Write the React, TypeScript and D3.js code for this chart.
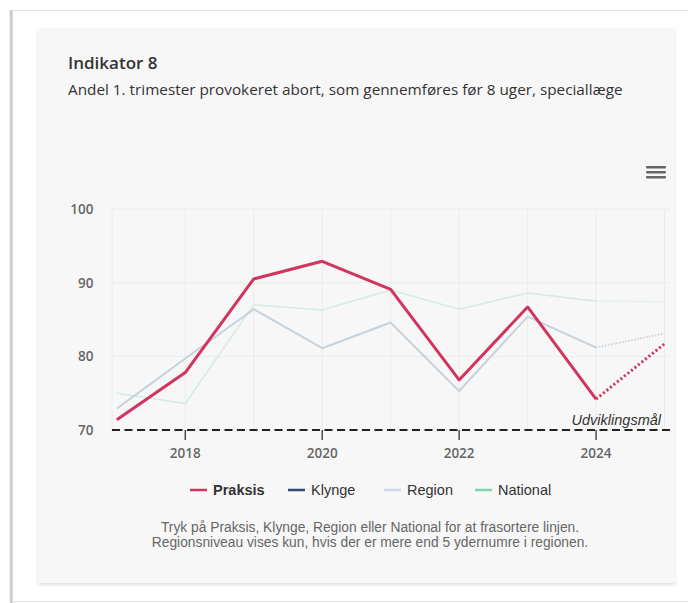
import React from "react";
import * as d3 from "d3";

const years = [2017, 2018, 2019, 2020, 2021, 2022, 2023, 2024, 2025];
const praksis = [71.4, 77.8, 90.5, 92.9, 89.1, 76.8, 86.7, 74.2, 81.7];
const region = [72.9, 79.7, 86.4, 81.1, 84.6, 75.3, 85.4, 81.2, 83.1];
const national = [75.0, 73.6, 87.0, 86.3, 89.0, 86.4, 88.6, 87.5, 87.4];
const yTicks = [70, 80, 90, 100];
const xTicks = [2018, 2020, 2022, 2024];
const legendNames = ["Praksis", "Klynge", "Region", "National"];
const legendColors = ["#d0345f", "#2d4f73", "#c9d9e8", "#7fd3ae"];
const target = 70;
const targetLabel = "Udviklingsmål";
const title = "Indikator 8";
const subtitle = "Andel 1. trimester provokeret abort, som gennemføres før 8 uger, speciallæge";
const footer1 = "Tryk på Praksis, Klynge, Region eller National for at frasortere linjen.";
const footer2 = "Regionsniveau vises kun, hvis der er mere end 5 ydernumre i regionen.";

export default function App() {
  const x = d3.scaleLinear().domain([2016.93, 2025.08]).range([112, 670]);
  const y = d3.scaleLinear().domain([70, 100]).range([430, 209]);
  const line = d3
    .line<[number, number]>()
    .x((d) => x(d[0]))
    .y((d) => y(d[1]));
  const solid = (vals: number[]) =>
    line(years.slice(0, 8).map((yr, i) => [yr, vals[i]] as [number, number])) || "";
  const dotted = (vals: number[]) =>
    line(years.slice(7).map((yr, i) => [yr, vals[i + 7]] as [number, number])) || "";
  const allYears = d3.range(2018, 2026);
  const [x0, x1] = x.range();

  const series = [
    { vals: national, color: "#d5ebe3", w: 1.6 },
    { vals: region, color: "#c6d2dc", w: 2 },
    { vals: praksis, color: "#d0345f", w: 3 },
  ];

  const legendX = [190, 288, 384, 475];
  const arial = "'Liberation Sans', Arial, sans-serif";

  return (
    <svg
      width={688}
      height={603}
      style={{ position: "absolute", left: 0, top: 0, background: "#fff" }}
      fontFamily="'Open Sans', sans-serif"
    >
      <defs>
        <filter id="sh" x="-5%" y="-5%" width="110%" height="110%">
          <feDropShadow dx="0" dy="2" stdDeviation="1.5" floodColor="#000" floodOpacity="0.12" />
        </filter>
        <linearGradient id="lsh" x1="0" x2="1">
          <stop offset="0" stopColor="#fff" />
          <stop offset="0.5" stopColor="#bdbdbd" />
          <stop offset="1" stopColor="#e8e8e8" />
        </linearGradient>
      </defs>
      {/* outer frame */}
      <rect x={9} y={10} width={4} height={593} fill="url(#lsh)" />
      <line x1={12} x2={688} y1={10.5} y2={10.5} stroke="#e2e2e2" />
      <line x1={12} x2={688} y1={601.5} y2={601.5} stroke="#e2e2e2" />
      {/* panel */}
      <rect x={38} y={28} width={637} height={555} fill="#f7f7f7" filter="url(#sh)" />

      <text x={68} y={68.5} fontSize={17} fontWeight={600} fill="#333">
        {title}
      </text>
      <text x={68} y={94.5} fontSize={15.3} fill="#333">
        {subtitle}
      </text>

      {/* menu icon */}
      {[0, 1, 2].map((i) => (
        <rect key={i} x={646} y={166 + i * 5} width={20} height={2.6} rx={1} fill="#666" />
      ))}

      {/* grid */}
      <line x1={x0} x2={x0} y1={209} y2={430} stroke="#ececec" />
      {allYears.map((yr) => (
        <line key={yr} x1={x(yr)} x2={x(yr)} y1={209} y2={430} stroke="#ececec" />
      ))}
      {yTicks.map((t) => (
        <line key={t} x1={x0} x2={x1} y1={y(t)} y2={y(t)} stroke="#ececec" />
      ))}

      {/* y labels */}
      {yTicks.map((t) => (
        <text key={t} x={93.5} y={y(t) + 5} fontSize={13.5} fontWeight={600} fill="#666" textAnchor="end">
          {t}
        </text>
      ))}
      {/* x ticks */}
      {xTicks.map((t) => (
        <g key={t}>
          <line x1={x(t)} x2={x(t)} y1={430} y2={440} stroke="#333" strokeWidth={1.3} />
          <text x={x(t)} y={458} fontSize={13.5} fontWeight={600} fill="#666" textAnchor="middle">
            {t}
          </text>
        </g>
      ))}

      {/* series */}
      {series.map((s, i) => (
        <g key={i}>
          <path d={solid(s.vals)} fill="none" stroke={s.color} strokeWidth={s.w} strokeLinejoin="round" />
          <path
            d={dotted(s.vals)}
            fill="none"
            stroke={s.color}
            strokeWidth={s.w}
            strokeDasharray={`${s.w * 0.7},${s.w * 0.8}`}
          />
        </g>
      ))}

      {/* target line */}
      <line x1={x0} x2={x1} y1={y(target)} y2={y(target)} stroke="#222" strokeWidth={2} strokeDasharray="8,4.5" />
      <text
        x={661}
        y={y(target) - 5}
        fontSize={14.5}
        fontStyle="italic"
        fill="#333"
        textAnchor="end"
        fontFamily={arial}
      >
        {targetLabel}
      </text>

      {/* legend */}
      {legendNames.map((n, i) => (
        <g key={n}>
          <line x1={legendX[i]} x2={legendX[i] + 17} y1={490} y2={490} stroke={legendColors[i]} strokeWidth={2.5} />
          <text
            x={legendX[i] + 23}
            y={494.5}
            fontSize={14.5}
            fontWeight={i === 0 ? 700 : 400}
            fill="#333"
            fontFamily={arial}
          >
            {n}
          </text>
        </g>
      ))}

      {/* footer */}
      <text x={370} y={532} fontSize={13.8} fill="#666" textAnchor="middle" fontFamily={arial}>
        {footer1}
      </text>
      <text x={370} y={547} fontSize={13.8} fill="#666" textAnchor="middle" fontFamily={arial}>
        {footer2}
      </text>
    </svg>
  );
}
